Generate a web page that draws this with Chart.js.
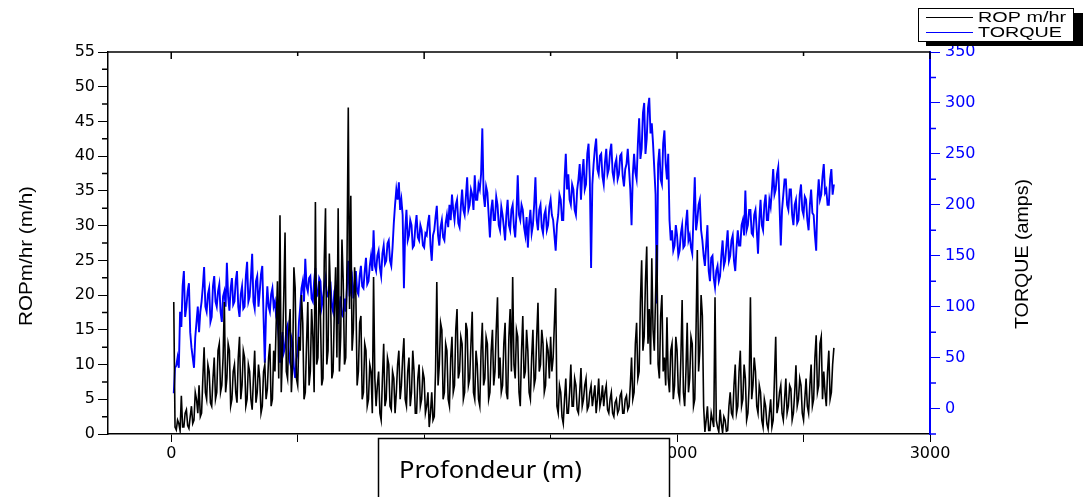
<!DOCTYPE html>
<html>
<head>
<meta charset="utf-8">
<script src="https://cdn.jsdelivr.net/npm/chart.js@4.4.1/dist/chart.umd.min.js"></script>
<style>
  html, body { margin: 0; padding: 0; background: #fff; }
  #wrap { width: 1087px; height: 497px; }
</style>
</head>
<body>
<div id="wrap"><canvas id="chart" width="1087" height="497"></canvas></div>
<script>
// depth grid (m): first reading at 10 m, one reading every 5 m
const depthStart = 10;
const depthStep = 5;

// ROP m/hr (one row = 100 m)
const ropValues = [
  19, 1, 0.6, 2, 1.5, 0.5, 5.5, 1, 1, 3, 3.5, 1.2, 0.8, 2.5, 4, 1.5, 2, 6, 5, 3,
  7, 2.5, 3, 8, 12.5, 6, 5, 10, 9, 4.5, 4, 8, 11, 5, 6, 12, 13, 6, 7, 11,
  19, 6, 8, 13, 12, 4, 5, 9, 10, 6, 4.5, 11, 14, 5, 7, 12, 11, 4, 5, 10,
  9, 5, 3.5, 8, 12, 4.5, 6, 10, 8, 3, 4, 9, 10, 5, 6.5, 11, 13, 4, 5, 12,
  9, 16, 22, 8, 31.5, 6, 12, 20, 29, 9, 8, 15, 18, 6, 10, 24, 21, 8, 7, 14,
  12, 20, 16, 5, 6, 13, 19, 7, 9, 18, 14, 6, 33.4, 10, 11, 22, 17, 7, 8, 25,
  32.5, 10, 12, 26, 20, 8, 9, 18, 24, 11, 32.5, 9, 14, 28, 22, 10, 11, 25, 47, 18,
  34.3, 12, 15, 24, 20, 7, 9, 16, 17, 5, 6, 13, 12, 4, 5, 10, 9, 3, 22.6, 8,
  4, 7, 9, 3, 2, 8, 13, 4, 5, 11, 10, 4, 3.5, 9, 8, 3, 6, 10, 12, 5,
  7, 11, 13.8, 5, 4, 9, 11, 4, 6, 12, 9, 3, 3, 8, 10, 4, 5, 9, 8, 3,
  4, 6, 1, 3, 6, 2, 2.5, 9, 21.9, 7, 10, 16, 15, 5, 6, 13, 12, 5, 4, 11,
  14, 6, 7, 15, 18, 8, 9, 14, 13, 5, 6, 16, 15, 7, 8, 13, 17.6, 6, 5, 12,
  10, 5, 4, 12, 16, 7, 8, 14, 13, 5, 6, 12, 15, 7, 9, 15, 19.7, 8, 11, 6,
  7, 13, 16, 6, 5, 14, 18, 9, 22.6, 10, 8, 15, 14, 6, 4, 12, 17, 8, 9, 15,
  12, 6, 5, 11, 15, 7, 8, 14, 18.9, 9, 10, 15, 13, 6, 7, 13, 12, 8, 14, 9,
  11, 16, 21, 4, 3, 7, 6, 2.5, 1.5, 5, 8, 3, 3, 6, 10, 4, 4, 8, 7, 3.5,
  3, 6, 9.5, 4, 5, 7, 8, 3.5, 4, 6, 7, 4, 5.5, 7, 3, 5, 8, 4, 5, 7,
  4, 6, 7, 3.5, 3, 5, 6, 3, 2.5, 4.5, 5, 3, 3.5, 5.5, 6, 3, 3, 5, 5.5, 3.5,
  4, 7, 11, 5, 6, 13, 16, 8, 9, 19, 25, 12, 14, 22, 27, 13, 18, 10, 25.3, 15,
  12, 20, 27.2, 10, 8, 17, 20, 9, 11, 7, 16.8, 8, 6, 12, 13, 5, 7, 14, 12, 6,
  5, 11, 19.3, 6, 4, 9, 16, 6, 8, 14, 13, 4, 5, 15, 26.5, 9, 12, 20, 17, 4,
  0.3, 2, 4, 0.5, 0.5, 3, 2, 1, 19.7, 2, 1, 0.3, 3.5, 1.5, 0.2, 2.5, 2, 0.4, 0.5, 4,
  6, 3, 2.5, 7, 10, 3, 4, 9, 12, 4, 5, 10, 8, 2, 3, 7, 19.7, 5, 7, 11,
  9, 4, 3, 7, 6, 2, 1, 5, 4, 1.5, 0.7, 3, 5, 1, 2, 8, 14, 3, 4, 6,
  7, 3, 2, 5, 8, 3, 4, 7, 6.5, 2, 3, 6, 9.9, 4, 5, 8, 7, 3, 2, 5,
  8, 4, 3, 7, 10, 4, 5, 11, 14.2, 6, 7, 13, 14, 5, 9, 6, 4, 9, 12, 5, 6, 10, 12.4
];

// TORQUE (amps) (one row = 100 m)
const torqueValues = [
  15, 40, 42, 50, 40, 95, 80, 120, 135, 90, 100, 115, 123, 75, 60, 50, 40, 70, 85, 100,
  75, 95, 105, 120, 139, 100, 95, 112, 118, 85, 90, 120, 130, 105, 100, 115, 122, 95, 85, 110,
  115, 100, 143, 110, 96, 118, 128, 102, 105, 125, 135, 100, 90, 112, 120, 98, 100, 130, 144, 105,
  110, 128, 152, 105, 98, 125, 130, 100, 115, 132, 140, 90, 45, 95, 120, 100, 95, 112, 118, 100,
  105, 90, 85, 70, 45, 65, 75, 55, 60, 78, 82, 50, 45, 70, 65, 40, 30, 48, 55, 85,
  100, 118, 125, 105, 147, 120, 115, 128, 130, 108, 105, 125, 138, 110, 112, 128, 125, 100, 108, 120,
  128, 112, 110, 120, 122, 100, 95, 115, 120, 95, 83, 100, 110, 92, 90, 108, 95, 120, 145, 110,
  120, 128, 108, 122, 135, 115, 112, 130, 140, 120, 118, 135, 148, 122, 125, 140, 150, 135, 175, 140,
  135, 150, 155, 138, 130, 152, 160, 142, 145, 162, 165, 145, 140, 158, 182, 200, 215, 205, 222, 195,
  205, 190, 118, 175, 195, 165, 170, 185, 180, 158, 160, 178, 190, 168, 165, 180, 175, 160, 158, 172,
  170, 182, 190, 160, 145, 170, 175, 188, 199, 170, 160, 178, 185, 168, 165, 182, 190, 178, 200, 185,
  210, 195, 185, 200, 205, 182, 178, 198, 215, 195, 190, 208, 227, 195, 200, 215, 210, 195, 229, 205,
  205, 220, 215, 230, 275, 210, 198, 218, 212, 190, 168, 195, 205, 185, 185, 208, 200, 180, 175, 198,
  190, 178, 165, 190, 205, 180, 175, 195, 200, 178, 168, 192, 229, 190, 185, 200, 195, 178, 170, 188,
  158, 182, 195, 172, 180, 200, 227, 185, 175, 195, 200, 178, 172, 190, 195, 175, 180, 198, 205, 190,
  185, 170, 155, 180, 190, 210, 205, 185, 185, 225, 250, 215, 230, 205, 200, 220, 215, 195, 190, 215,
  225, 240, 205, 230, 245, 215, 220, 250, 260, 225, 138, 220, 240, 255, 265, 235, 230, 248, 250, 228,
  220, 242, 255, 230, 235, 252, 260, 232, 225, 240, 245, 225, 230, 248, 250, 228, 218, 235, 240, 255,
  235, 215, 180, 230, 250, 232, 225, 260, 285, 245, 255, 290, 300, 250, 265, 295, 305, 270, 280, 260,
  235, 210, 103, 240, 255, 225, 220, 260, 273, 240, 225, 250, 185, 165, 175, 155, 160, 180, 170, 150,
  155, 172, 180, 158, 160, 182, 195, 165, 170, 158, 152, 190, 227, 175, 185, 200, 205, 175, 165, 150,
  140, 160, 180, 135, 125, 148, 150, 128, 119, 135, 140, 125, 130, 150, 165, 140, 145, 160, 175, 145,
  150, 165, 170, 145, 135, 158, 175, 160, 160, 180, 185, 170, 214, 175, 180, 195, 195, 172, 170, 190,
  195, 175, 152, 185, 205, 180, 175, 200, 210, 185, 185, 205, 198, 215, 235, 210, 215, 230, 237, 200,
  160, 195, 210, 225, 225, 200, 195, 215, 215, 190, 180, 200, 205, 182, 185, 210, 220, 195, 190, 208,
  205, 185, 175, 200, 215, 192, 190, 170, 155, 205, 225, 205, 210, 228, 240, 212, 215, 200, 200, 225, 235, 210, 220
];

const depths = ropValues.map((_, i) => depthStart + i * depthStep);

const xTickValues = [0, 500, 1000, 1500, 2000, 2500, 3000];
const xTickLabels = [0, 1000, 2000, 3000];
const ropTickValues = [0, 5, 10, 15, 20, 25, 30, 35, 40, 45, 50, 55];
const torqueTickValues = [0, 50, 100, 150, 200, 250, 300, 350];
const seriesNames = ['ROP m/hr', 'TORQUE'];
const BLUE = '#0000ff';
const tickFont = { family: 'DejaVu Sans', size: 16 };

// text squeezed or stretched to a given width, like the original export
function fitText(ctx, text, x, y, width, align) {
  const w = ctx.measureText(text).width;
  ctx.save();
  ctx.translate(x, y);
  ctx.scale(width / w, 1);
  ctx.textAlign = align || 'left';
  ctx.fillText(text, 0, 0);
  ctx.restore();
}

const setTicks = values => scale => {
  scale.ticks = values.map(v => ({ value: v }));
};

const decorations = {
  id: 'decorations',
  afterDraw(chart) {
    const { ctx, chartArea: a, scales } = chart;
    ctx.save();

    // top frame + inward ticks
    ctx.strokeStyle = '#000';
    ctx.lineWidth = 1.5;
    ctx.beginPath();
    ctx.moveTo(a.left, a.top);
    ctx.lineTo(a.right, a.top);
    xTickValues.forEach(v => {
      const x = scales.x.getPixelForValue(v);
      ctx.moveTo(x, a.top);
      ctx.lineTo(x, a.top + (v % 1000 === 0 ? 7 : 4));
    });
    // left minor ticks
    ropTickValues.slice(0, -1).forEach(v => {
      const y = scales.y.getPixelForValue(v + 2.5);
      ctx.moveTo(a.left, y);
      ctx.lineTo(a.left - 6, y);
    });
    ctx.stroke();

    // right minor ticks
    ctx.strokeStyle = BLUE;
    ctx.beginPath();
    [-25].concat(torqueTickValues.slice(0, -1).map(v => v + 25)).forEach(v => {
      const y = scales.y1.getPixelForValue(v);
      ctx.moveTo(a.right, y);
      ctx.lineTo(a.right + 6, y);
    });
    ctx.stroke();

    // axis titles (both read bottom to top)
    ctx.fillStyle = '#000';
    ctx.textBaseline = 'middle';
    ctx.font = '18px "Liberation Sans", Arial';
    ctx.save();
    ctx.translate(27, 256);
    ctx.rotate(-Math.PI / 2);
    fitText(ctx, 'ROPm/hr (m/h)', 0, 0, 140, 'center');
    ctx.restore();
    ctx.save();
    ctx.translate(1023, 254);
    ctx.rotate(-Math.PI / 2);
    fitText(ctx, 'TORQUE (amps)', 0, 0, 150, 'center');
    ctx.restore();

    // x title in its box
    ctx.fillStyle = '#fff';
    ctx.fillRect(378, 438, 292, 70);
    ctx.strokeStyle = '#000';
    ctx.lineWidth = 1.5;
    ctx.strokeRect(378.5, 438.5, 291, 70);
    ctx.fillStyle = '#000';
    ctx.font = '23px "Noto Sans"';
    ctx.textBaseline = 'alphabetic';
    fitText(ctx, 'Profondeur (m)', 399, 478, 183, 'left');

    // legend with drop shadow
    ctx.fillStyle = '#000';
    ctx.fillRect(926, 13, 157, 33);
    ctx.fillStyle = '#fff';
    ctx.fillRect(918, 8, 156, 34);
    ctx.strokeStyle = '#000';
    ctx.lineWidth = 1;
    ctx.strokeRect(918.5, 8.5, 155, 33);
    const rows = [{ c: '#000', y: 17 }, { c: BLUE, y: 32 }];
    ctx.font = '14px "Liberation Sans", Arial';
    ctx.textBaseline = 'middle';
    rows.forEach((r, i) => {
      ctx.strokeStyle = r.c;
      ctx.beginPath();
      ctx.moveTo(926, r.y + 0.5);
      ctx.lineTo(973, r.y + 0.5);
      ctx.stroke();
      ctx.fillStyle = '#000';
      fitText(ctx, seriesNames[i], 978, r.y + 1, i === 0 ? 88 : 84, 'left');
    });

    ctx.restore();
  }
};

const ctx = document.getElementById('chart').getContext('2d');
new Chart(ctx, {
  type: 'line',
  data: {
    datasets: [
      {
        label: seriesNames[0],
        data: depths.map((d, i) => ({ x: d, y: ropValues[i] })),
        borderColor: '#000',
        borderWidth: 1.6,
        pointRadius: 0,
        tension: 0,
        yAxisID: 'y'
      },
      {
        label: seriesNames[1],
        data: depths.map((d, i) => ({ x: d, y: torqueValues[i] })),
        borderColor: BLUE,
        borderWidth: 1.9,
        pointRadius: 0,
        tension: 0,
        yAxisID: 'y1'
      }
    ]
  },
  options: {
    responsive: false,
    animation: false,
    layout: { padding: { top: 52, left: 0, right: 0, bottom: 0 } },
    plugins: { legend: { display: false }, tooltip: { enabled: false } },
    scales: {
      x: {
        type: 'linear',
        min: -250,
        max: 3000,
        afterBuildTicks: setTicks(xTickValues),
        afterFit: s => { s.height = 63; },
        border: { color: '#000', width: 1.5 },
        grid: { drawOnChartArea: false, tickLength: 8, tickColor: '#000' },
        ticks: {
          maxRotation: 0,
          autoSkip: false,
          padding: 2,
          color: '#000',
          font: tickFont,
          callback: v => (xTickLabels.includes(v) ? String(v) : '')
        }
      },
      y: {
        position: 'left',
        min: 0,
        max: 55,
        afterBuildTicks: setTicks(ropTickValues),
        afterFit: s => { s.width = 108; },
        border: { color: '#000', width: 1.5 },
        grid: { drawOnChartArea: false, tickLength: 10, tickColor: '#000' },
        ticks: { autoSkip: false, padding: 3, color: '#000', font: tickFont }
      },
      y1: {
        position: 'right',
        min: -25,
        max: 350,
        afterBuildTicks: setTicks(torqueTickValues),
        afterFit: s => { s.width = 157; },
        border: { color: BLUE, width: 2 },
        grid: { drawOnChartArea: false, tickLength: 10, tickColor: BLUE },
        ticks: { autoSkip: false, padding: 5, color: BLUE, font: tickFont }
      }
    }
  },
  plugins: [decorations]
});
</script>
</body>
</html>
